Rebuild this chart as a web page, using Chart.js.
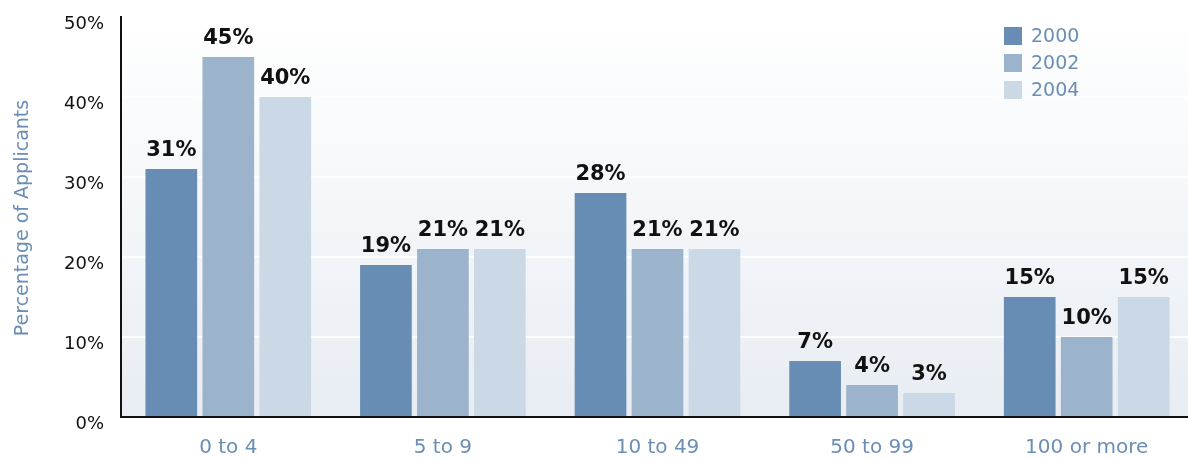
<!DOCTYPE html>
<html>
<head>
<meta charset="utf-8">
<script src="https://cdn.jsdelivr.net/npm/chart.js@4/dist/chart.umd.min.js"></script>
<style>
  html, body { margin: 0; padding: 0; background: #ffffff; overflow: hidden; }
  canvas { display: block; }
</style>
</head>
<body>
<canvas id="c" width="1194" height="460"></canvas>
<script>
const categories = ["0 to 4", "5 to 9", "10 to 49", "50 to 99", "100 or more"];
const seriesNames = ["2000", "2002", "2004"];
const values2000 = [31, 19, 28, 7, 15];
const values2002 = [45, 21, 21, 4, 10];
const values2004 = [40, 21, 21, 3, 15];
const yTicks = [0, 10, 20, 30, 40, 50];
const yTitle = "Percentage of Applicants";

const colors = ["#678db4", "#9bb3cb", "#cbd8e5"];
const FONT = "'DejaVu Sans', sans-serif";
const BLUE_TEXT = "#6a8eb4";

const bgPlugin = {
  id: 'bg',
  beforeDraw(chart) {
    const { ctx, chartArea: a } = chart;
    const g = ctx.createLinearGradient(0, a.top, 0, a.bottom);
    g.addColorStop(0, '#ffffff');
    g.addColorStop(1, '#e8edf3');
    ctx.save();
    ctx.fillStyle = g;
    ctx.fillRect(a.left, a.top, a.right - a.left, a.bottom - a.top);
    ctx.restore();
  }
};

const labelPlugin = {
  id: 'vals',
  afterDatasetsDraw(chart) {
    const ctx = chart.ctx;
    ctx.save();
    ctx.font = "bold 21px " + FONT;
    ctx.fillStyle = '#111111';
    ctx.textAlign = 'center';
    ctx.textBaseline = 'alphabetic';
    chart.data.datasets.forEach((ds, di) => {
      const meta = chart.getDatasetMeta(di);
      meta.data.forEach((bar, i) => {
        ctx.fillText(ds.data[i] + '%', bar.x, bar.y - 13);
      });
    });
    ctx.restore();
  }
};

const extrasPlugin = {
  id: 'extras',
  afterDraw(chart) {
    const ctx = chart.ctx;
    ctx.save();
    ctx.translate(23, 218);
    ctx.rotate(-Math.PI / 2);
    ctx.font = "19px " + FONT;
    ctx.fillStyle = BLUE_TEXT;
    ctx.textAlign = 'center';
    ctx.textBaseline = 'middle';
    ctx.fillText(yTitle, 0, 0);
    ctx.restore();
    ctx.save();
    ctx.font = "19px " + FONT;
    ctx.textAlign = 'left';
    ctx.textBaseline = 'middle';
    chart.data.datasets.forEach((ds, i) => {
      const y = 27 + i * 27;
      ctx.fillStyle = ds.backgroundColor;
      ctx.fillRect(1004, y, 18, 18);
      ctx.fillStyle = BLUE_TEXT;
      ctx.fillText(ds.label, 1031, y + 10);
    });
    ctx.restore();
  }
};

const seriesValues = [values2000, values2002, values2004];

new Chart(document.getElementById('c'), {
  type: 'bar',
  data: {
    labels: categories,
    datasets: seriesNames.map((n, i) => ({
      label: n,
      data: seriesValues[i],
      backgroundColor: colors[i],
      borderWidth: 0,
      categoryPercentage: 0.7965,
      barPercentage: 0.907
    }))
  },
  options: {
    responsive: false,
    animation: false,
    devicePixelRatio: 1,
    layout: { padding: { top: 17, left: 0, right: 0, bottom: 0 } },
    plugins: {
      legend: { display: false },
      tooltip: { enabled: false }
    },
    scales: {
      x: {
        afterFit(s) { s.height = 43; s.paddingLeft = 0; s.paddingRight = 0; },
        grid: { display: false, drawTicks: false },
        border: { display: true, color: '#111111', width: 2 },
        ticks: { color: BLUE_TEXT, font: { family: FONT, size: 20 }, padding: 19 }
      },
      y: {
        min: 0, max: 50,
        afterFit(s) { s.width = 121; s.paddingTop = 0; s.paddingBottom = 0; },
        afterBuildTicks(s) { s.ticks = yTicks.map(v => ({ value: v })); },
        grid: { color: 'rgba(255,255,255,0.9)', lineWidth: 2, drawTicks: false },
        border: { display: true, color: '#111111', width: 2 },
        ticks: {
          color: '#111111',
          font: { family: FONT, size: 18 },
          padding: 17,
          labelOffset: 7,
          callback: v => v + '%'
        }
      }
    }
  },
  plugins: [bgPlugin, labelPlugin, extrasPlugin]
});
</script>
</body>
</html>
